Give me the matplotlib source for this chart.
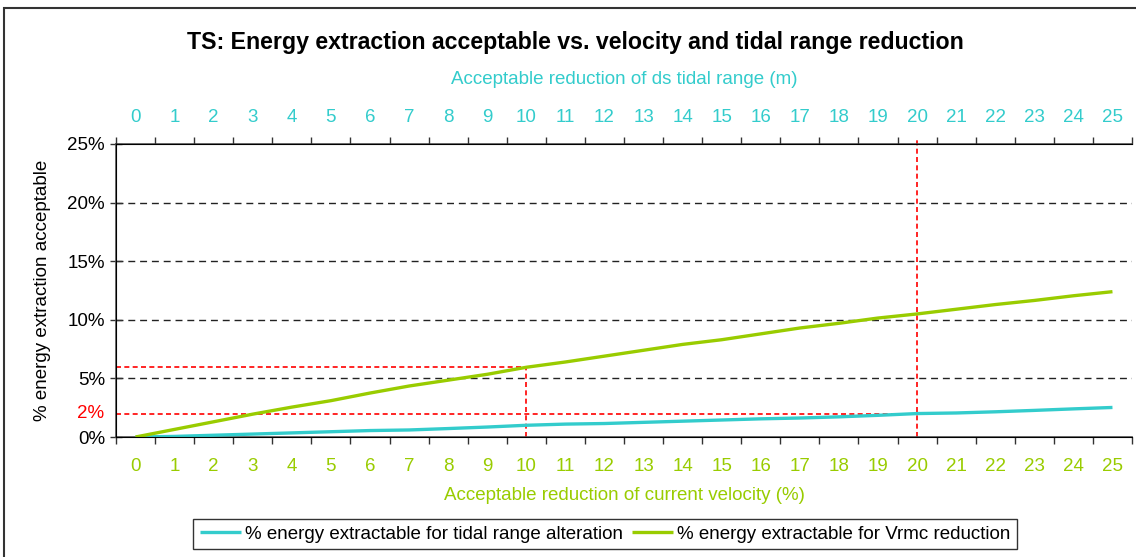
import matplotlib
matplotlib.use("Agg")
import matplotlib.pyplot as plt
from matplotlib.patches import Rectangle
from matplotlib.transforms import blended_transform_factory

plt.rcParams['font.family'] = ['Liberation Sans', 'DejaVu Sans']

categories = list(range(26))
tidal_range_energy = [0, 0.05, 0.15, 0.25, 0.35, 0.45, 0.55, 0.6, 0.72, 0.85, 1.0, 1.1, 1.15,
                      1.25, 1.35, 1.45, 1.55, 1.62, 1.72, 1.85, 2.0, 2.05, 2.15, 2.27, 2.4, 2.52]
vrmc_energy = [0, 0.65, 1.3, 1.95, 2.55, 3.1, 3.75, 4.35, 4.85, 5.35, 5.95, 6.4, 6.9, 7.4,
               7.9, 8.3, 8.8, 9.3, 9.7, 10.15, 10.5, 10.9, 11.3, 11.65, 12.05, 12.4]
y_ticks = [0, 5, 10, 15, 20, 25]
ref_vel_1, ref_energy_1 = 10, 6
ref_vel_2, ref_energy_2 = 20, 2

CYAN = '#33CCCC'
GREEN = '#99CC00'
RED = '#FF0000'
FS = 13.5

W, H = 1136, 557
fig = plt.figure(figsize=(W / 100, H / 100), dpi=100)
fig.patch.set_facecolor('white')

# outer chart frame
fig.patches.append(Rectangle((4 / W, -0.05), 1.2, 1 - 8 / H + 0.05, transform=fig.transFigure,
                             fill=False, edgecolor='#333333', linewidth=1.5))

left, right, top, bottom = 116, 1132, 144, 437
ax = fig.add_axes([left / W, (H - bottom) / H, (right - left) / W, (bottom - top) / H])
ax.set_xlim(-0.5, 25.5)
ax.set_ylim(0, 25)

ax.spines['right'].set_visible(False)
for s in ['left', 'bottom', 'top']:
    ax.spines[s].set_color('#555555')
    ax.spines[s].set_linewidth(1.2)

# gridlines
for yv in y_ticks[1:-1]:
    ax.axhline(yv, color='#222222', linewidth=1, dashes=(5, 3.5), zorder=1)

# red reference lines
ax.plot([-0.5, ref_vel_1], [ref_energy_1, ref_energy_1], color=RED, lw=1.2, dashes=(3, 2), zorder=2)
ax.plot([ref_vel_1, ref_vel_1], [0, ref_energy_1], color=RED, lw=1.2, dashes=(3, 2), zorder=2)
ax.plot([-0.5, ref_vel_2], [ref_energy_2, ref_energy_2], color=RED, lw=1.2, dashes=(3, 2), zorder=2)
ax.plot([ref_vel_2, ref_vel_2], [0, 25.3], color=RED, lw=1.2, dashes=(3, 2), zorder=2, clip_on=False)

l1, = ax.plot(categories, tidal_range_energy, color=CYAN, lw=2.4, zorder=3,
              label='% energy extractable for tidal range alteration', solid_capstyle='butt')
l2, = ax.plot(categories, vrmc_energy, color=GREEN, lw=2.4, zorder=3,
              label='% energy extractable for Vrmc reduction', solid_capstyle='butt')

# y axis ticks
ax.set_yticks(y_ticks)
ax.set_yticklabels([f'{v}%' for v in y_ticks])
ax.tick_params(axis='y', direction='inout', length=8, width=1, color='#333333',
               labelsize=FS, pad=4)
trans = blended_transform_factory(ax.transAxes, ax.transData)
ax.text(-0.0115, ref_energy_2, '2%', color=RED, fontsize=FS, ha='right', va='center',
        transform=trans)

# x axis: labels at centers, ticks at boundaries
ax.set_xticks(categories)
ax.set_xticklabels([str(c) for c in categories])
ax.set_xticks([c - 0.5 for c in range(27)], minor=True)
ax.tick_params(axis='x', which='major', length=0, labelsize=FS, labelcolor=GREEN, pad=15)
ax.tick_params(axis='x', which='minor', direction='out', length=5, width=1, color='#333333')

ax2 = ax.twiny()
ax2.set_xlim(-0.5, 25.5)
ax2.spines['right'].set_visible(False)
ax2.set_xticks(categories)
ax2.set_xticklabels([str(c) for c in categories])
ax2.set_xticks([c - 0.5 for c in range(27)], minor=True)
ax2.tick_params(axis='x', which='major', length=0, labelsize=FS, labelcolor=CYAN, pad=13)
ax2.tick_params(axis='x', which='minor', direction='out', length=5, width=1, color='#333333')

fig.text(624 / W, 1 - 495 / H, 'Acceptable reduction of current velocity (%)', color=GREEN,
         fontsize=FS, ha='center', va='center')
fig.text(624 / W, 1 - 80 / H, 'Acceptable reduction of ds tidal range (m)', color=CYAN,
         fontsize=FS, ha='center', va='center')

fig.text(43 / W, 1 - 290 / H, '% energy extraction acceptable', rotation=90,
         fontsize=FS, ha='center', va='center')

fig.text(575 / W, 1 - 42 / H, 'TS: Energy extraction acceptable vs. velocity and tidal range reduction',
         fontsize=16.7, fontweight='bold', ha='center', va='center')

leg = fig.legend(handles=[l1, l2], loc='center', bbox_to_anchor=(605 / W, 1 - 534 / H),
                 ncol=2, frameon=True, fancybox=False, fontsize=FS, handlelength=2.2,
                 handletextpad=0.2, columnspacing=0.5, borderpad=0.35, edgecolor='black')
leg.get_frame().set_linewidth(1)

fig.savefig('out.png', dpi=100, facecolor='white')
